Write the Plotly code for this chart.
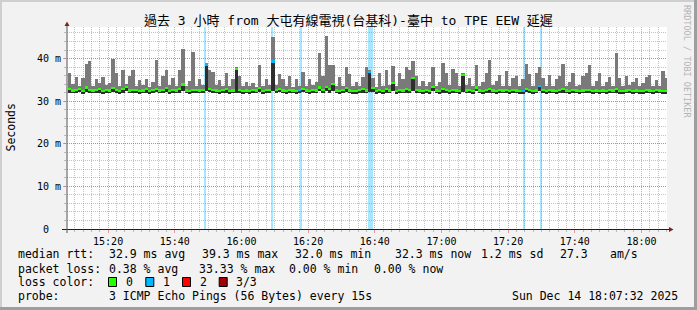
import plotly.graph_objects as go
import pandas as pd

# ---------------- data ----------------
start_minute = "2025-12-14 15:08:00"
n_minutes = 180

rtt_max = [
    36.5, 34.0, 35.7, 33.6, 35.5, 38.8, 39.4, 33.5, 35.3, 34.2,
    35.6, 33.7, 34.2, 39.8, 36.5, 33.6, 37.3, 34.0, 35.8, 37.4,
    33.5, 35.0, 33.8, 35.3, 33.4, 34.6, 39.6, 33.6, 36.0, 37.4,
    33.8, 35.5, 33.5, 37.3, 42.3, 33.6, 34.8, 41.6, 33.5, 35.2,
    33.7, 38.7, 37.2, 36.8, 33.8, 35.0, 33.5, 36.5, 33.6, 35.2,
    38.0, 36.0, 33.6, 34.5, 33.5, 34.2, 33.4, 38.6, 33.6, 35.3,
    33.7, 45.0, 33.8, 36.4, 35.3, 33.5, 35.8, 33.4, 35.2, 33.6,
    36.8, 33.5, 35.2, 33.8, 34.6, 41.3, 36.0, 45.3, 38.4, 38.6,
    33.6, 35.6, 33.5, 38.0, 36.3, 33.6, 34.6, 33.5, 35.6, 38.1,
    37.2, 35.5, 33.4, 36.5, 33.6, 37.2, 33.8, 38.2, 33.5, 36.6,
    35.2, 38.0, 37.3, 39.4, 36.0, 33.6, 34.7, 33.5, 34.6, 38.0,
    33.6, 34.6, 39.0, 36.5, 33.7, 37.6, 36.7, 33.5, 36.6, 33.8,
    35.5, 33.5, 38.4, 33.6, 34.6, 36.5, 39.6, 33.7, 34.8, 36.2,
    33.5, 37.0, 33.6, 35.5, 36.0, 33.5, 35.2, 38.8, 36.3, 33.6,
    36.6, 38.0, 35.5, 33.6, 36.2, 33.5, 35.3, 36.0, 38.8, 33.6,
    34.6, 36.5, 33.5, 33.8, 35.8, 36.5, 38.4, 33.6, 34.7, 36.7,
    33.5, 34.5, 35.6, 33.6, 41.2, 35.4, 33.5, 36.0, 33.7, 34.6,
    35.4, 33.6, 34.3, 35.6, 36.2, 33.5, 35.0, 33.6, 37.0, 35.4,
]

rtt_median = [
    32.8, 32.5, 32.6, 32.9, 32.4, 33.2, 32.7, 32.5, 32.6, 32.8,
    32.4, 32.7, 32.5, 33.0, 32.6, 32.4, 32.8, 33.4, 32.5, 32.7,
    32.6, 32.3, 32.5, 32.8, 32.4, 32.6, 32.9, 32.5, 32.7, 33.0,
    32.4, 32.6, 32.5, 32.8, 33.9, 32.5, 32.4, 32.7, 32.6, 32.5,
    32.7, 38.6, 32.8, 32.6, 32.5, 32.4, 32.6, 32.8, 32.4, 32.5,
    37.6, 32.6, 32.4, 32.5, 32.3, 32.6, 32.5, 33.0, 32.4, 32.6,
    32.7, 39.3, 32.6, 32.8, 32.5, 32.4, 32.6, 32.5, 32.3, 32.6,
    32.9, 32.5, 32.4, 32.6, 32.5, 33.2, 32.6, 33.4, 32.8, 34.0,
    32.5, 32.4, 32.6, 33.0, 32.5, 32.3, 32.4, 32.6, 32.8, 32.5,
    36.9, 33.0, 32.4, 32.6, 32.3, 32.8, 32.5, 34.3, 32.4, 32.6,
    32.5, 32.8, 32.6, 35.5, 32.7, 32.5, 32.3, 32.6, 32.4, 33.4,
    32.5, 32.3, 32.8, 32.6, 32.4, 32.7, 32.5, 32.4, 36.2, 32.5,
    32.6, 32.3, 33.2, 32.5, 32.4, 32.6, 32.8, 32.5, 32.3, 32.6,
    32.5, 32.7, 32.4, 32.6, 32.5, 32.3, 32.4, 32.9, 32.6, 32.4,
    32.5, 33.5, 32.7, 32.4, 32.6, 32.5, 32.3, 32.6, 32.8, 32.5,
    32.4, 32.6, 32.5, 32.3, 32.5, 32.7, 32.6, 32.4, 32.5, 32.3,
    32.5, 32.4, 32.6, 32.5, 32.8, 32.4, 32.3, 32.5, 32.6, 32.4,
    32.5, 32.3, 32.4, 32.6, 32.5, 32.4, 32.6, 32.5, 32.4, 32.3,
]

rtt_min = [
    32.0, 31.8, 31.9, 32.1, 31.7, 32.2, 31.9, 31.8, 32.0, 31.9,
    31.7, 31.9, 31.8, 32.1, 31.9, 31.7, 32.0, 32.3, 31.8, 32.0,
    31.9, 31.6, 31.8, 32.0, 31.7, 31.9, 32.1, 31.8, 31.9, 32.2,
    31.7, 31.9, 31.8, 32.0, 32.4, 31.8, 31.7, 32.0, 31.9, 31.8,
    32.0, 32.3, 32.1, 31.9, 31.8, 31.7, 31.9, 32.0, 31.7, 31.8,
    32.0, 31.9, 31.7, 31.8, 31.6, 31.9, 31.8, 32.2, 31.7, 31.9,
    32.0, 32.4, 31.9, 32.1, 31.8, 31.7, 31.9, 31.8, 31.6, 31.9,
    32.1, 31.8, 31.7, 31.9, 31.8, 32.3, 31.9, 32.4, 32.0, 32.5,
    31.8, 31.7, 31.9, 32.2, 31.8, 31.6, 31.7, 31.9, 32.0, 31.8,
    32.2, 32.1, 31.7, 31.9, 31.6, 32.0, 31.8, 32.3, 31.7, 31.9,
    31.8, 32.0, 31.9, 32.4, 32.0, 31.8, 31.6, 31.9, 31.7, 32.3,
    31.8, 31.6, 32.0, 31.9, 31.7, 32.0, 31.8, 31.7, 32.2, 31.8,
    31.9, 31.6, 32.3, 31.8, 31.7, 31.9, 32.0, 31.8, 31.6, 31.9,
    31.8, 32.0, 31.7, 31.9, 31.8, 31.6, 31.7, 32.1, 31.9, 31.7,
    31.8, 32.3, 32.0, 31.7, 31.9, 31.8, 31.6, 31.9, 32.0, 31.8,
    31.7, 31.9, 31.8, 31.6, 31.8, 32.0, 31.9, 31.7, 31.8, 31.6,
    31.8, 31.7, 31.9, 31.8, 32.0, 31.7, 31.6, 31.8, 31.9, 31.7,
    31.8, 31.6, 31.7, 31.9, 31.8, 31.7, 31.9, 31.8, 31.7, 31.6,
]

# packet-loss events (1 of 3 pings lost)
loss_times = ["2025-12-14 15:49:08", "2025-12-14 16:09:10", "2025-12-14 16:17:49",
              "2025-12-14 16:38:43", "2025-12-14 17:24:51", "2025-12-14 17:29:52"]
loss_seconds = [30, 48, 30, 80, 36, 36]
loss_counts = [1, 1, 1, 1, 1, 1]

y_tick_vals = [0, 10, 20, 30, 40]
y_tick_text = ["0\u00a0\u00a0", "10 m", "20 m", "30 m", "40 m"]

legend_rtt = ["median rtt:", "32.9 ms avg", "39.3 ms max", "32.0 ms min",
              "32.3 ms now", "1.2 ms sd", "27.3", "am/s"]
legend_loss = ["packet loss:", "0.38 % avg", "33.33 % max", "0.00 % min", "0.00 % now"]
loss_labels = ["0", "1", "2", "3/3"]
loss_colors = ["#26ff00", "#00b8ff", "#ff0000", "#a00000"]
probe_text = ["probe:", "3 ICMP Echo Pings (56 Bytes) every 15s", "Sun Dec 14 18:07:32 2025"]
title_text = "過去 3 小時 from 大屯有線電視(台基科)-臺中 to TPE EEW 延遲"

# ---------------- layout geometry ----------------
W, H = 697, 310
L, R, T, B = 67, 30, 27, 81
PW, PH = W - L - R, H - T - B


def px(x):
    return (x - L) / PW


def py(y):
    return (H - B - y) / PH


MONO = "DejaVu Sans Mono, Noto Sans CJK TC"

minutes = pd.date_range(start_minute, periods=n_minutes, freq="1min")
centers = minutes + pd.Timedelta(seconds=30)
step_ms = 60000

# median colour by loss
med_colors = [loss_colors[0]] * n_minutes
for t, c in zip(loss_times, loss_counts):
    idx = int((pd.Timestamp(t).floor("min") - minutes[0]) / pd.Timedelta(minutes=1))
    if 0 <= idx < n_minutes:
        med_colors[idx] = loss_colors[c]

fig = go.Figure()

# loss background bands
fig.add_trace(go.Bar(
    x=pd.to_datetime(loss_times), y=[100] * len(loss_times), base=0,
    width=[s * 1000 for s in loss_seconds],
    marker=dict(color="rgba(0,184,255,0.35)", line=dict(width=0)),
    hoverinfo="skip", showlegend=False))

# smoke: min -> max
fig.add_trace(go.Bar(
    x=centers, base=rtt_min, y=[a - b for a, b in zip(rtt_max, rtt_min)],
    width=step_ms, marker=dict(color="#7a7a7a", line=dict(width=0)),
    showlegend=False))

# dark part: min -> median
fig.add_trace(go.Bar(
    x=centers, base=rtt_min, y=[a - b for a, b in zip(rtt_median, rtt_min)],
    width=step_ms, marker=dict(color="#2e2e2e", line=dict(width=0)),
    showlegend=False))

# median band coloured by loss
band = 0.26
fig.add_trace(go.Bar(
    x=centers, base=[m - band for m in rtt_median], y=[2 * band] * n_minutes,
    width=step_ms, marker=dict(color=med_colors, line=dict(width=0)),
    showlegend=False))

grid_minor = "rgba(143,143,143,0.55)"
grid_major = "rgba(222,79,79,0.55)"

fig.update_layout(
    width=W, height=H,
    margin=dict(l=L, r=R, t=T, b=B, pad=0),
    paper_bgcolor="#f2f2f2", plot_bgcolor="#ffffff",
    barmode="overlay", bargap=0,
    font=dict(family=MONO, color="#000000", size=10),
    showlegend=False,
    xaxis=dict(
        type="date",
        range=["2025-12-14 15:07:40", "2025-12-14 18:07:40"],
        tick0="2025-12-14 15:20:00", dtick=20 * 60000,
        tickformat="%H:%M",
        showgrid=True, gridcolor=grid_major, griddash="1px,1px", gridwidth=1,
        ticks="outside", ticklen=3, tickcolor=grid_major,
        tickfont=dict(family=MONO, size=10, color="#000"),
        minor=dict(dtick=150000, tick0="2025-12-14 15:20:00", showgrid=True,
                   gridcolor=grid_minor, griddash="1px,1px", ticks="outside",
                   ticklen=2, tickcolor=grid_minor),
        showline=False, zeroline=False, fixedrange=True,
    ),
    yaxis=dict(
        range=[0, 47.4],
        tickvals=y_tick_vals, ticktext=y_tick_text,
        showgrid=True, gridcolor=grid_major, griddash="1px,1px", gridwidth=1,
        ticks="outside", ticklen=3, tickcolor=grid_major,
        tickfont=dict(family=MONO, size=10, color="#000"),
        minor=dict(dtick=2, showgrid=True, gridcolor=grid_minor,
                   griddash="1px,1px", ticks="outside", ticklen=2,
                   tickcolor=grid_minor),
        showline=False, zeroline=False, fixedrange=True,
    ),
)

shapes = []
# frame
shapes.append(dict(type="rect", xref="paper", yref="paper", x0=px(0), x1=px(W), y0=py(0), y1=py(2),
                   fillcolor="#cfcfcf", line=dict(width=0), layer="above"))
shapes.append(dict(type="rect", xref="paper", yref="paper", x0=px(0), x1=px(2), y0=py(0), y1=py(H),
                   fillcolor="#cfcfcf", line=dict(width=0), layer="above"))
shapes.append(dict(type="rect", xref="paper", yref="paper", x0=px(0), x1=px(W), y0=py(H - 3), y1=py(H),
                   fillcolor="#9e9e9e", line=dict(width=0), layer="above"))
shapes.append(dict(type="rect", xref="paper", yref="paper", x0=px(W - 3), x1=px(W), y0=py(0), y1=py(H),
                   fillcolor="#9e9e9e", line=dict(width=0), layer="above"))
# axes
yb = H - B
shapes.append(dict(type="line", xref="paper", yref="paper", x0=px(62), x1=px(669), y0=py(yb + 0.5), y1=py(yb + 0.5),
                   line=dict(color="#1f1f1f", width=1), layer="above"))
shapes.append(dict(type="line", xref="paper", yref="paper", x0=px(L), x1=px(L), y0=py(yb + 4), y1=py(25),
                   line=dict(color="#555555", width=1), layer="above"))
# arrows
def tri(pts):
    return "M " + " L ".join(f"{px(a)},{py(b)}" for a, b in pts) + " Z"

shapes.append(dict(type="path", xref="paper", yref="paper",
                   path=tri([(669, yb - 2), (673.5, yb + 0.5), (669, yb + 3)]),
                   fillcolor="#801f1f", line=dict(width=0), layer="above"))
shapes.append(dict(type="path", xref="paper", yref="paper",
                   path=tri([(64.5, 26), (67, 21.5), (69.5, 26)]),
                   fillcolor="#801f1f", line=dict(width=0), layer="above"))

annotations = []


def txt(x, y, s, size=11.5, anchor="left", color="#000000", angle=0):
    annotations.append(dict(text=s, x=px(x), y=py(y), xref="paper", yref="paper",
                            xanchor=anchor, yanchor="middle", showarrow=False,
                            textangle=angle,
                            font=dict(family=MONO, size=size, color=color)))


txt(348, 21, title_text, size=13, anchor="center")
txt(10.5, 128, "Seconds", size=11.5, anchor="center", angle=-90)
txt(687, 61, "RRDTOOL / TOBI OETIKER", size=8.5, anchor="center", color="#b4b4b4", angle=90)

rtt_x = [16, 107.3, 200, 292.7, 393.3, 479.3, 558.3, 607.7]
for x, s in zip(rtt_x, legend_rtt):
    txt(x, 254, s)
loss_x = [16, 107.3, 196.7, 286.7, 372.3]
for x, s in zip(loss_x, legend_loss):
    txt(x, 268.5, s)
txt(16, 282, "loss color:")
box_x = [108.5, 145.8, 182.5, 219.2]
for bx, lab, col in zip(box_x, loss_labels, loss_colors):
    shapes.append(dict(type="rect", xref="paper", yref="paper", x0=px(bx), x1=px(bx + 8),
                       y0=py(286.5), y1=py(277.5), fillcolor=col,
                       line=dict(color="#000000", width=1), layer="above"))
    txt(bx + 15, 282, lab)
txt(16, 296, probe_text[0])
txt(107.3, 296, probe_text[1])
txt(680, 296, probe_text[2], anchor="right")

fig.update_layout(shapes=shapes, annotations=annotations)
fig.write_html("out.html")
